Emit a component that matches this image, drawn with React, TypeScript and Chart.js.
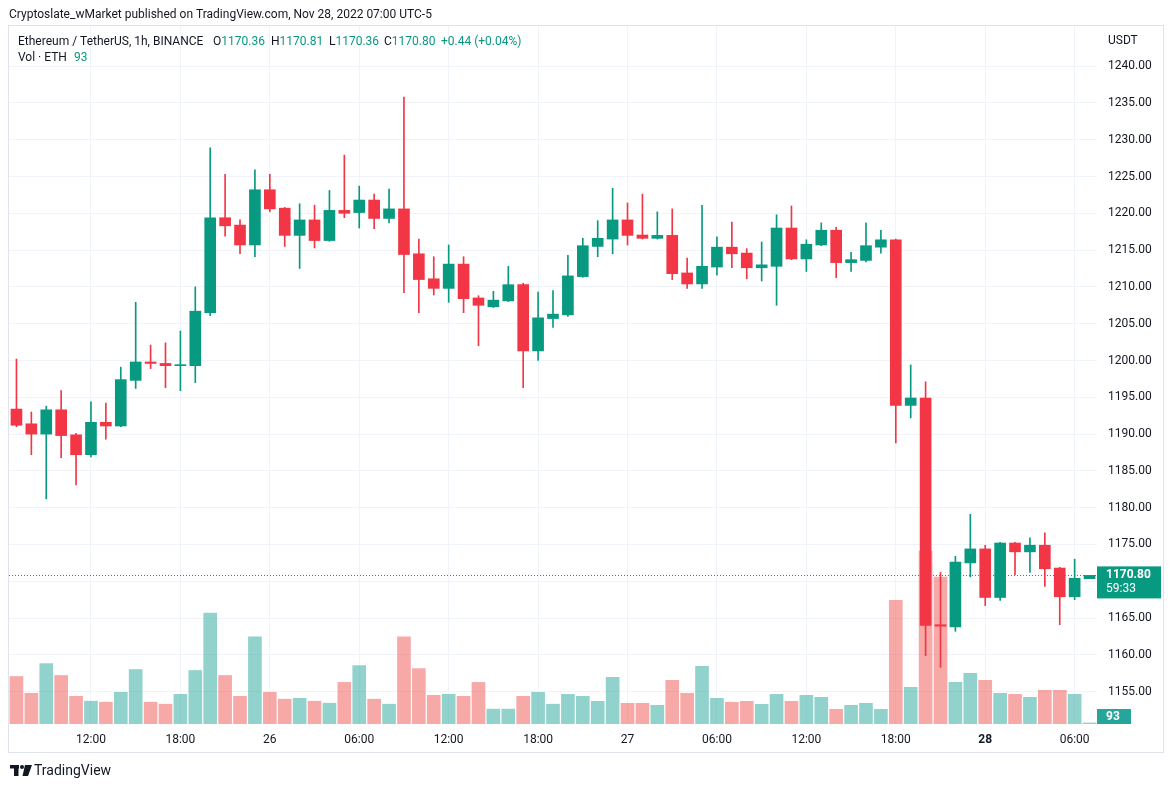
import React, { useEffect, useRef } from "react";
import { Chart, registerables } from "chart.js";

Chart.register(...registerables);

// ---- Data (ETH/USDT 1h, Binance, Nov 25 07:00 -> Nov 28 07:00, UTC-5) ----
const startDay = 25;
const startHour = 7;
const candleCount = 73;

const opens = [
  1193.4, 1191.4, 1190.0, 1193.3, 1189.9, 1187.2, 1191.6, 1191.1, 1197.3, 1199.8,
  1199.6, 1199.3, 1199.3, 1206.5, 1219.4, 1218.4, 1215.7, 1223.2, 1220.7, 1217.0,
  1219.1, 1216.3, 1220.4, 1220.1, 1221.8, 1219.3, 1220.6, 1214.5, 1211.1, 1209.8,
  1213.1, 1208.5, 1207.3, 1208.1, 1210.3, 1201.3, 1205.7, 1206.2, 1211.4, 1215.5,
  1216.5, 1219.1, 1217.05, 1216.6, 1217.0, 1211.9, 1210.4, 1212.7, 1215.4, 1214.6,
  1212.6, 1212.8, 1218.0, 1213.8, 1215.7, 1217.7, 1213.3, 1213.6, 1215.4, 1216.4,
  1193.9, 1194.9, 1164.1, 1163.8, 1172.5, 1174.4, 1167.8, 1175.2, 1174.0, 1174.9,
  1171.8, 1167.9, 1170.36,
];
const highs = [
  1200.2, 1193.0, 1193.8, 1195.9, 1190.1, 1194.4, 1194.2, 1199.1, 1207.9, 1202.1,
  1202.4, 1204.0, 1210.0, 1228.9, 1225.3, 1219.1, 1225.9, 1225.3, 1220.8, 1221.3,
  1221.1, 1223.1, 1227.9, 1223.7, 1222.6, 1223.3, 1235.8, 1216.5, 1214.1, 1215.7,
  1214.1, 1208.8, 1209.4, 1212.8, 1210.5, 1209.3, 1209.5, 1214.3, 1216.6, 1219.0,
  1223.4, 1221.4, 1222.6, 1220.2, 1220.6, 1213.9, 1221.1, 1216.8, 1218.8, 1215.2,
  1216.1, 1219.8, 1221.0, 1216.4, 1218.7, 1218.1, 1214.7, 1218.7, 1217.7, 1216.5,
  1199.4, 1197.1, 1171.2, 1173.4, 1179.1, 1174.9, 1175.3, 1175.3, 1175.9, 1176.6,
  1171.9, 1173.0, 1170.81,
];
const lows = [
  1191.0, 1187.2, 1181.2, 1186.8, 1183.1, 1186.9, 1189.3, 1191.0, 1196.2, 1198.9,
  1196.3, 1195.9, 1197.0, 1206.1, 1216.9, 1214.5, 1214.1, 1220.2, 1215.5, 1212.5,
  1215.3, 1216.2, 1219.4, 1218.0, 1217.9, 1218.7, 1209.2, 1206.5, 1208.9, 1207.9,
  1206.5, 1202.0, 1207.2, 1208.0, 1196.3, 1200.0, 1204.5, 1206.0, 1211.3, 1214.1,
  1214.5, 1215.7, 1216.5, 1216.5, 1211.0, 1209.8, 1209.8, 1211.6, 1212.6, 1211.1,
  1210.8, 1207.5, 1213.7, 1212.1, 1215.6, 1211.25, 1212.1, 1213.4, 1214.6, 1188.8,
  1192.2, 1159.9, 1158.3, 1163.2, 1170.6, 1166.7, 1167.4, 1170.9, 1171.2, 1169.3,
  1164.1, 1167.5, 1170.36,
];
const closes = [
  1191.2, 1190.0, 1193.3, 1189.8, 1187.2, 1191.6, 1191.1, 1197.4, 1199.8, 1199.6,
  1199.3, 1199.4, 1206.7, 1219.4, 1218.3, 1215.7, 1223.2, 1220.6, 1217.0, 1219.1,
  1216.3, 1220.4, 1220.0, 1221.8, 1219.3, 1220.6, 1214.4, 1211.0, 1209.8, 1213.1,
  1208.4, 1207.5, 1208.2, 1210.3, 1201.3, 1205.8, 1206.3, 1211.5, 1215.6, 1216.6,
  1219.1, 1217.0, 1216.6, 1217.0, 1211.8, 1210.4, 1212.8, 1215.4, 1214.5, 1212.6,
  1213.0, 1218.0, 1213.8, 1215.8, 1217.7, 1213.3, 1213.7, 1215.6, 1216.4, 1193.9,
  1194.9, 1164.0, 1163.9, 1172.6, 1174.4, 1167.8, 1175.2, 1174.0, 1174.9, 1171.7,
  1167.9, 1170.4, 1170.80,
];
const volumes = [
  19000, 12280, 24160, 19400, 11080, 9120, 8720, 12680, 21800, 8720,
  7920, 11880, 21400, 44360, 19400, 11080, 34840, 12680, 9920, 10280,
  9120, 8320, 16640, 23360, 9920, 7920, 34840, 22160, 11480, 11880,
  11080, 16640, 5960, 5960, 11080, 12680, 7920, 11880, 11080, 9080,
  18680, 8280, 8280, 7480, 17480, 12280, 23080, 10280, 8680, 9080,
  7880, 11880, 9080, 11480, 10680, 5880, 7480, 8280, 5880, 49480,
  14680, 69200, 58800, 16680, 20280, 17480, 12280, 11880, 10680, 13480,
  13480, 11880, 93,
];
const priceTicks = [1155, 1160, 1165, 1170, 1175, 1180, 1185, 1190, 1195, 1200, 1205, 1210, 1215, 1220, 1225, 1230, 1235, 1240];

const headerText = "Cryptoslate_wMarket published on TradingView.com, Nov 28, 2022 07:00 UTC-5";
const symbolText = "Ethereum / TetherUS, 1h, BINANCE";
const changeText = "+0.44 (+0.04%)";
const volText = "Vol · ETH";
const countdownText = "59:33";

// ---- Styles ----
const UP = "#089981";
const DOWN = "#F23645";
const UP_VOL = "rgba(38,166,154,0.5)";
const DOWN_VOL = "rgba(239,83,80,0.5)";
const GRID = "#F0F3FA";
const TEXT = "#131722";
const FONT = "Roboto, 'Liberation Sans', sans-serif";

const pad2 = (n: number) => (n < 10 ? "0" + n : "" + n);
const hourOf = (i: number) => (startHour + i) % 24;
const dayOf = (i: number) => startDay + Math.floor((startHour + i) / 24);
const categories = Array.from({ length: candleCount }, (_, i) => `Nov ${dayOf(i)} ${pad2(hourOf(i))}:00`);
const tickText = (i: number) => {
  const h = hourOf(i);
  if (h === 0) return String(dayOf(i));
  if (h % 6 === 0) return `${pad2(h)}:00`;
  return "";
};

const isUp = (i: number) => closes[i] >= opens[i];

const overlayPlugin = {
  id: "tvOverlay",
  beforeDatasetsDraw(chart: any) {
    const { ctx, chartArea, scales } = chart;
    const last = closes[closes.length - 1];
    const y = Math.round(scales.y.getPixelForValue(last)) + 0.5;
    ctx.save();
    ctx.strokeStyle = UP;
    ctx.lineWidth = 1;
    ctx.setLineDash([1, 2]);
    ctx.beginPath();
    ctx.moveTo(chartArea.left, y);
    ctx.lineTo(chartArea.right, y);
    ctx.stroke();
    ctx.restore();
  },
  afterDraw(chart: any) {
    const { ctx, chartArea, scales } = chart;
    ctx.save();
    // pane border
    ctx.strokeStyle = "#E0E3EB";
    ctx.lineWidth = 1;
    ctx.strokeRect(8.5, 25.5, 1155, 727);

    // header
    ctx.textBaseline = "middle";
    ctx.textAlign = "left";
    ctx.font = `12px ${FONT}`;
    ctx.fillStyle = TEXT;
    ctx.fillText(headerText, 9, 15);

    // symbol line
    const y2 = 42;
    ctx.fillStyle = TEXT;
    ctx.fillText(symbolText, 18, y2);
    const last = candleCount - 1;
    const parts: [string, number, number][] = [
      ["O", opens[last], 213],
      ["H", highs[last], 271],
      ["L", lows[last], 329],
      ["C", closes[last], 384],
    ];
    for (const [k, v, px] of parts) {
      ctx.fillStyle = TEXT;
      ctx.fillText(k, px, y2);
      const kw = ctx.measureText(k).width;
      ctx.fillStyle = UP;
      ctx.fillText(v.toFixed(2), px + kw, y2);
    }
    ctx.fillStyle = UP;
    ctx.fillText(changeText, 441, y2);

    // volume line
    ctx.fillStyle = TEXT;
    ctx.fillText(volText, 18, 58);
    ctx.fillStyle = UP;
    ctx.fillText(String(volumes[last]), 74, 58);

    // price axis unit
    ctx.fillStyle = TEXT;
    ctx.fillText("USDT", 1108, 41);

    // last price label
    const py = scales.y.getPixelForValue(closes[last]);
    ctx.fillStyle = UP;
    ctx.fillRect(chartArea.right, py - 9, 64, 32);
    ctx.fillStyle = "#FFFFFF";
    ctx.font = `bold 12px ${FONT}`;
    ctx.fillText(closes[last].toFixed(2), 1106, py);
    ctx.font = `12px ${FONT}`;
    ctx.fillText(countdownText, 1106, py + 14);

    // volume label
    const vy = Math.min(scales.yv.getPixelForValue(volumes[last]), chartArea.bottom - 8);
    ctx.fillStyle = "#26A69A";
    ctx.fillRect(chartArea.right, vy - 7, 34, 15);
    ctx.fillStyle = "#FFFFFF";
    ctx.font = `bold 12px ${FONT}`;
    ctx.fillText(String(volumes[last]), 1106, vy + 0.5);

    // TradingView logo
    ctx.fillStyle = TEXT;
    ctx.fillRect(10, 765, 9, 3.5);
    ctx.fillRect(14, 765, 4.5, 11);
    ctx.beginPath();
    ctx.arc(22, 767, 2, 0, Math.PI * 2);
    ctx.fill();
    ctx.beginPath();
    ctx.moveTo(25, 765);
    ctx.lineTo(32, 765);
    ctx.lineTo(28, 776);
    ctx.lineTo(22.5, 776);
    ctx.closePath();
    ctx.fill();
    ctx.font = `14px ${FONT}`;
    ctx.fillText("TradingView", 34, 771);
    ctx.restore();
  },
};

export default function App() {
  const ref = useRef<HTMLCanvasElement | null>(null);
  useEffect(() => {
    if (!ref.current) return;
    const chart = new Chart(ref.current, {
      type: "bar",
      data: {
        labels: categories,
        datasets: [
          {
            label: "Body",
            data: opens.map((o, i) => [o, closes[i]]) as any,
            backgroundColor: opens.map((_, i) => (isUp(i) ? UP : DOWN)),
            barThickness: 11,
            minBarLength: 1,
            grouped: false,
            borderWidth: 0,
            order: 1,
            yAxisID: "y",
          } as any,
          {
            label: "Wick",
            data: lows.map((l, i) => [l, highs[i]]) as any,
            backgroundColor: opens.map((_, i) => (isUp(i) ? UP : DOWN)),
            barThickness: 1,
            minBarLength: 1,
            grouped: false,
            borderWidth: 0,
            order: 2,
            yAxisID: "y",
          } as any,
          {
            label: "Volume",
            data: volumes,
            backgroundColor: volumes.map((_, i) => (isUp(i) ? UP_VOL : DOWN_VOL)),
            barThickness: 13,
            minBarLength: 1,
            grouped: false,
            borderWidth: 0,
            order: 3,
            yAxisID: "yv",
          } as any,
        ],
      },
      options: {
        animation: false,
        responsive: false,
        maintainAspectRatio: false,
        devicePixelRatio: 1,
        layout: { padding: { left: 9, top: 26, right: 0, bottom: 0 } },
        plugins: { legend: { display: false }, tooltip: { enabled: false } },
        scales: {
          x: {
            type: "category",
            offset: true,
            grid: {
              offset: false,
              drawTicks: false,
              color: (c: any) => (tickText(c.index) ? GRID : "rgba(0,0,0,0)"),
            },
            border: { display: false },
            ticks: {
              autoSkip: false,
              maxRotation: 0,
              minRotation: 0,
              padding: 9,
              color: TEXT,
              font: (c: any) => ({
                family: FONT,
                size: 12,
                weight: hourOf(c.index) === 0 && dayOf(c.index) === 28 ? "bold" : "normal",
              }),
              callback: (_v: any, i: number) => tickText(i),
            },
            afterFit: (s: any) => {
              s.height = 64;
            },
          } as any,
          y: {
            position: "right",
            min: 1150.61,
            max: 1245.45,
            grid: { color: GRID, drawTicks: false },
            border: { display: false },
            afterBuildTicks: (s: any) => {
              s.ticks = priceTicks.map((v) => ({ value: v }));
            },
            ticks: {
              padding: 11,
              color: TEXT,
              font: { family: FONT, size: 12 },
              callback: (v: any) => Number(v).toFixed(2),
            },
            afterFit: (s: any) => {
              s.width = 74;
            },
          } as any,
          yv: {
            display: false,
            min: 0,
            max: 279200,
          },
        },
      },
      plugins: [overlayPlugin],
    });
    return () => chart.destroy();
  }, []);

  return (
    <div style={{ position: "absolute", left: 0, top: 0, width: 1171, height: 788, background: "#FFFFFF" }}>
      <canvas ref={ref} width={1171} height={788} style={{ display: "block", width: 1171, height: 788 }} />
    </div>
  );
}
